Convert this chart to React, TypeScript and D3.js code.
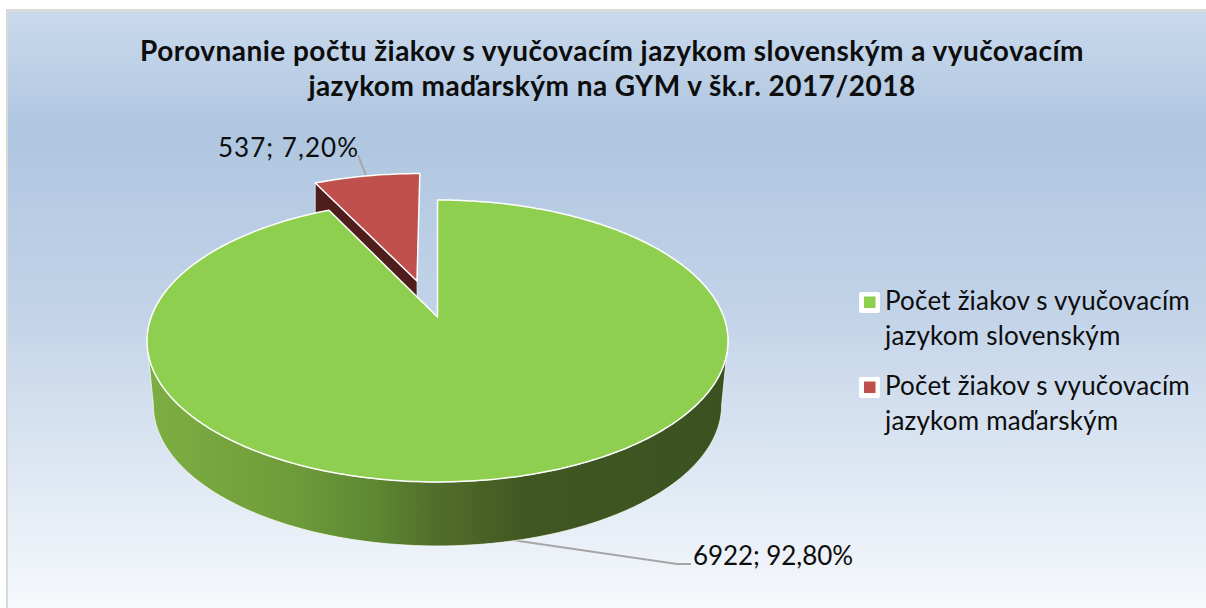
import React from "react";
import * as d3 from "d3";

const titleLines = [
  "Porovnanie počtu žiakov s vyučovacím jazykom slovenským a vyučovacím",
  "jazykom maďarským na GYM v šk.r. 2017/2018",
];
const categories = ["Počet žiakov s vyučovacím jazykom slovenským", "Počet žiakov s vyučovacím jazykom maďarským"];
const legendLines = [
  ["Počet žiakov s vyučovacím", "jazykom slovenským"],
  ["Počet žiakov s vyučovacím", "jazykom maďarským"],
];
const values = [6922, 537];
const dataLabels = ["6922; 92,80%", "537; 7,20%"];
const colors = ["#8FCF50", "#C0504D"];
const explode = [0, 0.285];

const W = 1206, H = 608;
const FONT = "Lato, Carlito, 'Open Sans', sans-serif";
const cx = 437.5, cy = 317, a = 286.3, b = 136.9, k = 0.17, depth = 64, wallScale = 0.978;

type P = [number, number];
const project = (u: number, v: number, dz = 0): P => {
  const w = 1 - k * v;
  return [cx + (a * u) / w, cy + (b * v) / w + dz];
};
const polar = (t: number, r = 1, ex = 0, mid = 0): P => {
  const u = r * Math.sin(t) + ex * Math.sin(mid);
  const v = -r * Math.cos(t) - ex * Math.cos(mid);
  return [u, v];
};

const line = d3.line<P>();

function slicePath(s0: number, s1: number, ex: number, dz = 0) {
  const mid = (s0 + s1) / 2 - 0.04;
  const pts: P[] = [];
  const apex = polar(0, 0, ex, mid);
  pts.push(project(apex[0], apex[1], dz));
  const n = Math.max(12, Math.round((s1 - s0) * 60));
  d3.range(n + 1).forEach((i) => {
    const t = s0 + ((s1 - s0) * i) / n;
    const q = polar(t, 1, ex, mid);
    pts.push(project(q[0], q[1], dz));
  });
  return line(pts) + "Z";
}

export default function App() {
  const pie = d3.pie<number>().sort(null).startAngle(0).endAngle(2 * Math.PI);
  const arcs = pie(values);
  const g = arcs[0], r = arcs[1];
  const rMid = (r.startAngle + r.endAngle) / 2 - 0.04;
  const ex = explode[1];

  // green wall: the front part of the disc between its two horizontal extremes, extruded
  const t0 = Math.acos(-k), t1 = 2 * Math.PI - t0;
  const frontTs = d3.range(0, 121).map((i) => t0 + ((t1 - t0) * i) / 120);
  const topFront = frontTs.map((t) => { const q = polar(t); return project(q[0], q[1]); });
  const botFront = frontTs.map((t) => { const q = polar(t); const p = project(q[0], q[1], depth); return [cx + (p[0] - cx) * wallScale, p[1]] as P; });
  const wall = line([...topFront, ...botFront.reverse()]) + "Z";

  // red side wall: radial edge along the left side of the slice
  const rA = polar(0, 0, ex, rMid);
  const rL = polar(r.startAngle, 1, ex, rMid);
  const sideDepth = 48;
  const side = line([
    project(rA[0], rA[1]),
    project(rL[0], rL[1]),
    project(rL[0], rL[1], sideDepth),
    project(rA[0], rA[1], sideDepth),
  ]) + "Z";

  return (
    <svg width={W} height={H} style={{ position: "absolute", left: 0, top: 0, display: "block" }}>
      <defs>
        <linearGradient id="bg" x1="0" y1="0" x2="0" y2="1">
          <stop offset="0" stopColor="#C9D9EC" />
          <stop offset="0.2" stopColor="#AFC6E0" />
          <stop offset="0.5" stopColor="#C2D3E8" />
          <stop offset="1" stopColor="#F6F9FC" />
        </linearGradient>
        <linearGradient id="wallG" gradientUnits="userSpaceOnUse" x1="147" y1="0" x2="728" y2="0">
          <stop offset="0" stopColor="#7DAE42" />
          <stop offset="0.25" stopColor="#6F9C3A" />
          <stop offset="0.4" stopColor="#5C8632" />
          <stop offset="0.49" stopColor="#536F2B" />
          <stop offset="0.65" stopColor="#3F5822" />
          <stop offset="1" stopColor="#3A5220" />
        </linearGradient>
      </defs>
      <rect x={0} y={0} width={W} height={H} fill="#fff" />
      <rect x={6} y={9} width={W - 6} height={H - 9} fill="#D9D9D9" />
      <rect x={8} y={12} width={W - 8} height={H - 12} fill="url(#bg)" />

      {titleLines.map((t, i) => (
        <text key={i} x={612} y={[61, 96][i]} textAnchor="middle" fontFamily={FONT} fontWeight={700} fontSize={28} letterSpacing={0.46} fill="#0D0D0D">{t}</text>
      ))}

      {/* leader lines */}
      <path d={d3.line()([[358, 155], [367, 178]]) as string} fill="none" stroke="#A6A6A6" strokeWidth={2} />
      <path d={d3.line()([[512, 540], [677, 564], [691, 564]]) as string} fill="none" stroke="#A6A6A6" strokeWidth={2} />

      {/* exploded slice */}
      <path d={side} fill="#4E1D1C" stroke="#fff" strokeWidth={0.6} />
      <path d={slicePath(r.startAngle, r.endAngle, ex)} fill={colors[1]} stroke="#fff" strokeWidth={1.5} strokeLinejoin="round" />

      {/* main slice */}
      <path d={wall} fill="url(#wallG)" stroke="#fff" strokeWidth={0.7} />
      <path d={slicePath(g.startAngle, g.endAngle, 0)} fill={colors[0]} stroke="#fff" strokeWidth={1.5} strokeLinejoin="round" />

      {/* data labels */}
      <text x={693} y={565} fontFamily={FONT} fontSize={26} textLength={160} fill="#0D0D0D">{dataLabels[0]}</text>
      <text x={218} y={157} fontFamily={FONT} fontSize={26} textLength={140} fill="#0D0D0D">{dataLabels[1]}</text>

      {/* legend */}
      {categories.map((c, i) => {
        const y0 = [302, 387][i];
        return (
          <g key={c}>
            <rect x={859} y={y0 - 10} width={21} height={21} rx={2} fill="#fff" />
            <rect x={864} y={y0 - 5.5} width={11.5} height={11.5} fill={colors[i]} />
            {legendLines[i].map((l, j) => (
              <text key={j} x={885} y={y0 + 8 + j * 35} fontFamily={FONT} fontSize={26} letterSpacing={0.2} fill="#0D0D0D">{l}</text>
            ))}
          </g>
        );
      })}
    </svg>
  );
}
